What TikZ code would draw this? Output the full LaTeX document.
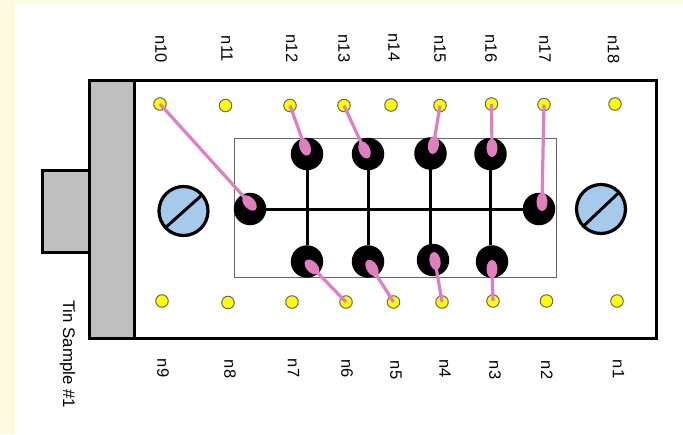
\documentclass[tikz,border=0pt]{standalone}
\usepackage{fontspec}
\setmainfont{Liberation Sans}
\usetikzlibrary{shapes.geometric}
\definecolor{cream}{HTML}{FCFBE0}
\definecolor{housing}{HTML}{BFBFBF}
\definecolor{screwblue}{HTML}{A6CAEC}
\definecolor{wirepink}{HTML}{E07FBF}
\definecolor{dotyellow}{HTML}{FFFF00}
\tikzset{
  x=1pt,y=-1pt,
  box/.style={draw=black,line width=3pt,line join=miter},
  lbl/.style={rotate=-90,font=\fontsize{16.5}{18}\selectfont,text=black,inner sep=0pt},
  dotnode/.style={circle,draw=black!60,fill=dotyellow,line width=1pt,minimum size=12.5pt,inner sep=0pt},
  pad/.style={circle,fill=black,minimum size=32.5pt,inner sep=0pt},
  blob/.style={ellipse,fill=wirepink,minimum width=18pt,minimum height=11pt,inner sep=0pt},
  wire/.style={draw=wirepink,line width=3.2pt},
  bus/.style={draw=black,line width=3pt},
  screw/.style={circle,draw=black,fill=screwblue,line width=3.2pt,minimum size=49pt,inner sep=0pt}
}
\begin{document}
\begin{tikzpicture}
\useasboundingbox (0,0) rectangle (683,434);
\fill[cream] (0,0) rectangle (683,434);
\fill[white] (15,4) rectangle (683,434);
% housing
\draw[box,fill=housing] (42,170) rectangle (89,252);
\draw[box,fill=white] (89,80) rectangle (656,338);
\draw[box,fill=housing] (89,80) rectangle (134,338);
\draw[draw=black!60,line width=1pt] (234,138.5) rectangle (556,277);
% screws
\node[screw] (s1) at (183.5,211) {};
\node[screw] (s2) at (601,209) {};
\coordinate (s1a) at (165,228); \coordinate (s1b) at (202,195);
\coordinate (s2a) at (582.5,227); \coordinate (s2b) at (619.5,192);
\draw[bus] (s1a) -- (s1b);
\draw[bus] (s2a) -- (s2b);
% pads
\node[pad] (p1) at (307,154) {};
\node[pad] (p2) at (368,154) {};
\node[pad] (p3) at (430.5,153.5) {};
\node[pad] (p4) at (490.5,154) {};
\node[pad] (p5) at (250,209) {};
\node[pad] (p6) at (539,209) {};
\node[pad] (p7) at (307,261.5) {};
\node[pad] (p8) at (368,261.5) {};
\node[pad] (p9) at (433,260) {};
\node[pad] (p10) at (492,261.5) {};
\draw[bus] (p5) -- (p6);
\draw[bus] (p1) -- (p7);
\draw[bus] (p2) -- (p8);
\draw[bus] (p3.center) -- (p3.center |- p9.north);
\draw[bus] (p4.center) -- (p4.center |- p10.north);
% dots
\foreach \n/\x/\y in {n10/160/104,n11/225.5/105.5,n12/290/105.5,n13/344/105.5,n14/391/105,n15/440/105.5,n16/491.5/104,n17/544/104.5,n18/615/104,n9/162/301,n8/228/302.5,n7/292/302,n6/346/302,n5/393.5/302,n4/442/302,n3/493/301,n2/546.5/301,n1/617/301}
  \node[dotnode] (d\n) at (\x,\y) {};
% wires
\foreach \n/\x/\y/\r in {n10/249.5/203/-48,n12/305/147/-70,n13/364.5/150/-66,n15/433.5/145/80,n16/492/148/90,n17/542/202/90,n6/312/267/-46,n5/372/268/-58,n4/435/261/100,n3/492/269/90}{
  \node[blob,rotate=\r] (b\n) at (\x,\y) {};
  \draw[wire] (d\n.center) -- (b\n.center);
}
% labels
\foreach \n/\x/\y in {n10/161/49,n11/227/49,n12/292/48.5,n13/344/48.5,n14/394/47.5,n15/440/49,n16/491/48.5,n17/545/49,n18/613.5/49.5,n9/163/368,n8/230/369,n7/293.5/368,n6/347/368.5,n5/396/370,n4/445/368.5,n3/495/370,n2/547/370,n1/618.5/369}
  \node[lbl] (l\n) at (\x,\y) {\n};
\node[lbl,font=\fontsize{16.8}{18}\selectfont] (title) at (67.5,354) {Tin Sample \#1};
\end{tikzpicture}
\end{document}
